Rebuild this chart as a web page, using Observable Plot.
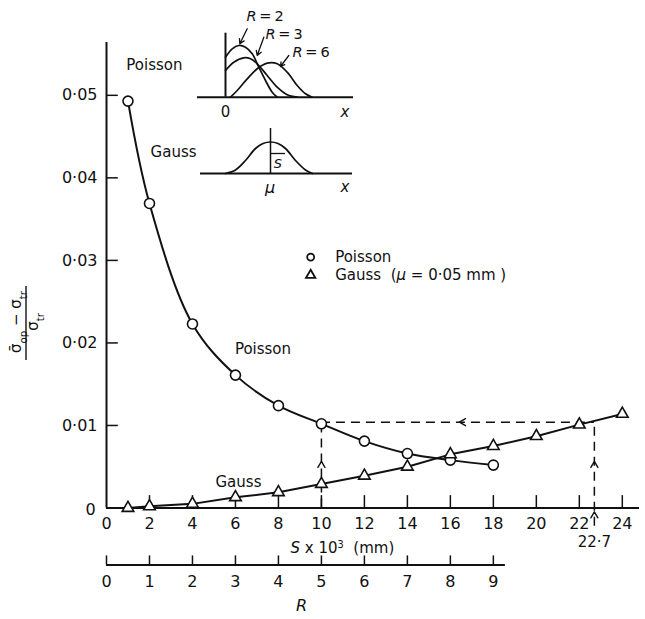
<!DOCTYPE html>
<html><head><meta charset="utf-8">
<script src="https://cdn.jsdelivr.net/npm/d3@7"></script>
<script src="https://cdn.jsdelivr.net/npm/@observablehq/plot@0.6"></script>
<style>
body{margin:0;background:#fff;}
#wrap{position:relative;width:645px;height:619px;overflow:hidden;}
#wrap > svg{position:absolute;}
</style></head><body><div id="wrap"></div>
<script>
// ---- main chart data ----
const poissonS = [1, 2, 4, 6, 8, 10, 12, 14, 16, 18];
const poissonV = [0.0493, 0.0369, 0.0223, 0.0161, 0.0124, 0.0102, 0.0081, 0.0066, 0.0058, 0.0052];
const gaussS = [1, 2, 4, 6, 8, 10, 12, 14, 16, 18, 20, 22, 24];
const gaussV = [0, 0.0002, 0.0005, 0.0013, 0.0019, 0.0029, 0.0039, 0.0050, 0.0065, 0.0075, 0.0087, 0.0101, 0.0114];
const xTicks = [0, 2, 4, 6, 8, 10, 12, 14, 16, 18, 20, 22, 24];
const yTicks = [0.01, 0.02, 0.03, 0.04, 0.05];
const yTickLabels = ["0·01", "0·02", "0·03", "0·04", "0·05"];
const rTicks = [0, 1, 2, 3, 4, 5, 6, 7, 8, 9];
const matchS = 10, readS = 22.7, readV = 0.0104;

// ---- inset data (schematic distributions) ----
const r2x = [0, 0.67, 1.33, 2, 2.67, 3.33, 4, 4.67, 5.17];
const r2y = [4.0, 4.84, 5.17, 5.0, 4.34, 3.0, 1.67, 0.5, 0];
const r3x = [0, 0.83, 1.83, 2.5, 3.17, 4.17, 5.17, 6.17, 7.17];
const r3y = [2.67, 3.5, 3.94, 3.84, 3.34, 2.17, 1.0, 0.24, 0];
const r6x = [0.5, 1.17, 2.17, 3.17, 4.17, 5.17, 6.17, 7.17, 8.0, 8.67];
const r6y = [0, 0.67, 1.84, 2.84, 3.4, 3.34, 2.5, 1.17, 0.34, 0];
const gx = [-4.5, -3.5, -2.5, -1.5, -0.75, 0, 0.75, 1.5, 2.5, 3.5, 4.2];
const gy = [0, 0.35, 1.3, 2.5, 3.0, 3.15, 3.0, 2.5, 1.3, 0.35, 0];

const FONT = "DejaVu Sans";
const ink = "#111";
const wrap = document.getElementById("wrap");

const poissonData = poissonS.map((s, i) => ({s, v: poissonV[i]}));
const gaussData = gaussS.map((s, i) => ({s, v: gaussV[i]}));
const dash = {stroke: ink, strokeWidth: 1.5, strokeDasharray: "9,6"};
const chevron = {draw(ctx) { ctx.moveTo(-3.5, 6); ctx.lineTo(0, 0); ctx.lineTo(3.5, 6); }};

const main = Plot.plot({
  width: 645, height: 619,
  marginLeft: 106, marginRight: 6, marginTop: 42, marginBottom: 111.5,
  x: {domain: [0, 24.8], axis: null},
  y: {domain: [0, 0.0564], axis: null},
  style: {fontFamily: FONT, fontSize: "16px", color: ink, background: "white"},
  marks: [
    Plot.ruleX([0], {stroke: ink, strokeWidth: 2}),
    Plot.ruleY([0], {stroke: ink, strokeWidth: 2}),
    Plot.ruleX(xTicks.filter(d => d > 0), {x: d => d, y1: 0, y2: 0.0015, stroke: ink, strokeWidth: 1.5}),
    Plot.ruleY(yTicks, {y: d => d, x1: 0, x2: 0.55, stroke: ink, strokeWidth: 1.5}),
    Plot.text(xTicks, {x: d => d, y: 0, dy: 16, text: d => String(d), fontSize: 16, fill: ink}),
    Plot.text(yTicks, {x: 0, y: d => d, dx: -9, textAnchor: "end", text: (d, i) => yTickLabels[i], fontSize: 16, fill: ink}),
    Plot.text(["0"], {x: 0, y: 0, dx: -16, dy: 2, text: d => d, fontSize: 16, fill: ink}),
    // secondary R axis
    Plot.ruleY([0], {x1: 0, x2: 18.56, dy: 57, stroke: ink, strokeWidth: 1.8}),
    Plot.ruleX(rTicks, {x: r => 2 * r, y1: 0, y2: 0.0011, dy: 57, stroke: ink, strokeWidth: 1.5}),
    Plot.text(rTicks, {x: r => 2 * r, y: 0, dy: 74, text: r => String(r), fontSize: 16, fill: ink}),
    // reading construction
    Plot.ruleX([matchS], {x: d => d, y1: 0, y2: readV, ...dash}),
    Plot.ruleY([readV], {y: d => d, x1: matchS, x2: readS, ...dash}),
    Plot.ruleX([readS], {x: d => d, y1: -0.0022, y2: readV, ...dash}),
    Plot.vector([
      {x: matchS, y: 0.0057, a: 0},
      {x: readS, y: 0.0057, a: 0},
      {x: 16.4, y: readV, a: -90},
      {x: readS, y: -0.0004, a: 0}
    ], {x: "x", y: "y", rotate: "a", length: 1, shape: chevron, stroke: ink, strokeWidth: 1.4}),
    Plot.text(["22·7"], {x: readS, y: 0, dy: 34, text: d => d, fontSize: 15, fill: ink}),
    // series
    Plot.line(poissonData, {x: "s", y: "v", curve: "catmull-rom", stroke: ink, strokeWidth: 2}),
    Plot.line(gaussData, {x: "s", y: "v", stroke: ink, strokeWidth: 2}),
    Plot.dot(poissonData, {x: "s", y: "v", symbol: "circle", r: 5, fill: "white", stroke: ink, strokeWidth: 1.6}),
    Plot.dot(gaussData, {x: "s", y: "v", symbol: "triangle", r: 4.3, fill: "white", stroke: ink, strokeWidth: 1.6}),
    // annotations
    Plot.text(["Poisson"], {x: 7.28, y: 0.0193, text: d => d, fontSize: 15, fill: ink}),
    Plot.text(["Gauss"], {x: 6.14, y: 0.0031, text: d => d, fontSize: 15, fill: ink}),
    Plot.text(["Poisson"], {x: 2.23, y: 0.0536, text: d => d, fontSize: 15, fill: ink}),
    Plot.text(["Gauss"], {x: 3.12, y: 0.0431, text: d => d, fontSize: 15, fill: ink}),
    // legend symbols
    Plot.dot([0.0304], {x: 9.5, y: d => d, symbol: "circle", r: 3.5, fill: "white", stroke: ink, strokeWidth: 1.8}),
    Plot.dot([0.0282], {x: 9.5, y: d => d, symbol: "triangle", r: 3.5, fill: "white", stroke: ink, strokeWidth: 1.8})
  ]
});
main.style.left = "0px"; main.style.top = "0px";
wrap.appendChild(main);

const sx = v => main.scale("x").apply(v);
const sy = v => main.scale("y").apply(v);

function rich(svg, x, y, parts, {size = 15, anchor = "start", transform = null, spacing = null} = {}) {
  const t = svg.append("text")
    .attr("font-family", FONT).attr("font-size", size).attr("fill", ink)
    .attr("text-anchor", anchor);
  if (transform) t.attr("transform", transform); else t.attr("x", x).attr("y", y);
  if (spacing != null) t.attr("letter-spacing", spacing);
  t.attr("dy", "0.35em");
  for (const [s, st] of parts) {
    const sp = t.append("tspan").text(s);
    if (st === "i") sp.attr("font-style", "italic");
    if (st === "sup") sp.attr("font-size", size * 0.65).attr("baseline-shift", "super");
    if (st === "sub") sp.attr("font-size", size * 0.68).attr("baseline-shift", "sub");
  }
  return t;
}

const svg = d3.select(main);
// legend texts
rich(svg, sx(9.5) + 25, sy(0.0304), [["Poisson"]], {size: 15});
rich(svg, sx(9.5) + 25, sy(0.0282), [["Gauss  ("], ["μ", "i"], [" = 0·05 mm )"]], {size: 15});
// axis titles
rich(svg, sx(11), sy(0) + 40, [["S", "i"], [" x 10"], ["3", "sup"], ["  (mm)"]], {size: 15, anchor: "middle"});
rich(svg, sx(9.1), sy(0) + 98, [["R", "i"]], {size: 16, anchor: "middle"});
// y-axis fraction label
rich(svg, 0, 0, [["σ̄"], ["op", "sub"], [" − σ"], ["tr", "sub"]], {size: 15, anchor: "middle", transform: "translate(16,322) rotate(-90)"});
svg.append("line").attr("x1", 26).attr("x2", 26).attr("y1", 286).attr("y2", 360).attr("stroke", ink).attr("stroke-width", 1.4);
rich(svg, 0, 0, [["σ"], ["tr", "sub"]], {size: 15, anchor: "middle", transform: "translate(33,322) rotate(-90)"});

// ---- inset: Poisson distributions ----
const mk = (xs, ys) => xs.map((x, i) => ({x, y: ys[i]}));
const inset1 = Plot.plot({
  width: 170, height: 125, margin: 0,
  x: {domain: [-3.5, 13.5], axis: null},
  y: {domain: [-2.83, 9.67], axis: null},
  style: {fontFamily: FONT, fontSize: "15px", background: "none", overflow: "visible"},
  marks: [
    Plot.ruleX([0], {x: d => d, y1: 0, y2: 6.4, stroke: ink, strokeWidth: 2}),
    Plot.ruleY([0], {y: d => d, x1: -2.8, x2: 12.8, stroke: ink, strokeWidth: 2}),
    Plot.line(mk(r2x, r2y), {x: "x", y: "y", curve: "catmull-rom", stroke: ink, strokeWidth: 1.7}),
    Plot.line(mk(r3x, r3y), {x: "x", y: "y", curve: "catmull-rom", stroke: ink, strokeWidth: 1.7}),
    Plot.line(mk(r6x, r6y), {x: "x", y: "y", curve: "catmull-rom", stroke: ink, strokeWidth: 1.7}),
    Plot.arrow([
      {x1: 2.17, y1: 6.84, x2: 1.43, y2: 5.34},
      {x1: 3.83, y1: 6.0, x2: 3.17, y2: 4.17},
      {x1: 6.33, y1: 4.17, x2: 5.5, y2: 3.07}
    ], {x1: "x1", y1: "y1", x2: "x2", y2: "y2", stroke: ink, strokeWidth: 1.3, headLength: 6}),
    Plot.text(["0"], {x: 0, y: -1.5, text: d => d, fontSize: 15, fill: ink})
  ]
});
inset1.style.left = "190px"; inset1.style.top = "0px";
wrap.appendChild(inset1);
const i1 = d3.select(inset1);
const ix1 = v => inset1.scale("x").apply(v), iy1 = v => inset1.scale("y").apply(v);
rich(i1, ix1(12), iy1(-1.5), [["x", "i"]], {size: 15, anchor: "middle"});
rich(i1, ix1(4.0), iy1(8.1), [["R", "i"], ["\u2009=\u20092"]], {size: 14.5, anchor: "middle"});
rich(i1, ix1(5.9), iy1(6.3), [["R", "i"], ["\u2009=\u20093"]], {size: 14.5, anchor: "middle"});
rich(i1, ix1(8.6), iy1(4.47), [["R", "i"], ["\u2009=\u20096"]], {size: 14.5, anchor: "middle"});

// ---- inset: Gauss distribution ----
const inset2 = Plot.plot({
  width: 170, height: 85, margin: 0,
  x: {domain: [-8, 9], axis: null},
  y: {domain: [-2.7, 5.8], axis: null},
  style: {fontFamily: FONT, fontSize: "15px", background: "none", overflow: "visible"},
  marks: [
    Plot.ruleY([0], {y: d => d, x1: -7, x2: 8.2, stroke: ink, strokeWidth: 2}),
    Plot.ruleX([0], {x: d => d, y1: 0, y2: 4.5, stroke: ink, strokeWidth: 1.5}),
    Plot.ruleY([2.0], {y: d => d, x1: 0, x2: 1.5, stroke: ink, strokeWidth: 1.3}),
    Plot.line(mk(gx, gy), {x: "x", y: "y", curve: "catmull-rom", stroke: ink, strokeWidth: 1.7})
  ]
});
inset2.style.left = "190px"; inset2.style.top = "115px";
wrap.appendChild(inset2);
const i2 = d3.select(inset2);
const ix2 = v => inset2.scale("x").apply(v), iy2 = v => inset2.scale("y").apply(v);
rich(i2, ix2(0.8), iy2(1.0), [["S", "i"]], {size: 13, anchor: "middle"});
rich(i2, ix2(0), iy2(-1.4), [["μ", "i"]], {size: 16, anchor: "middle"});
rich(i2, ix2(7.5), iy2(-1.4), [["x", "i"]], {size: 15, anchor: "middle"});
</script></body></html>
